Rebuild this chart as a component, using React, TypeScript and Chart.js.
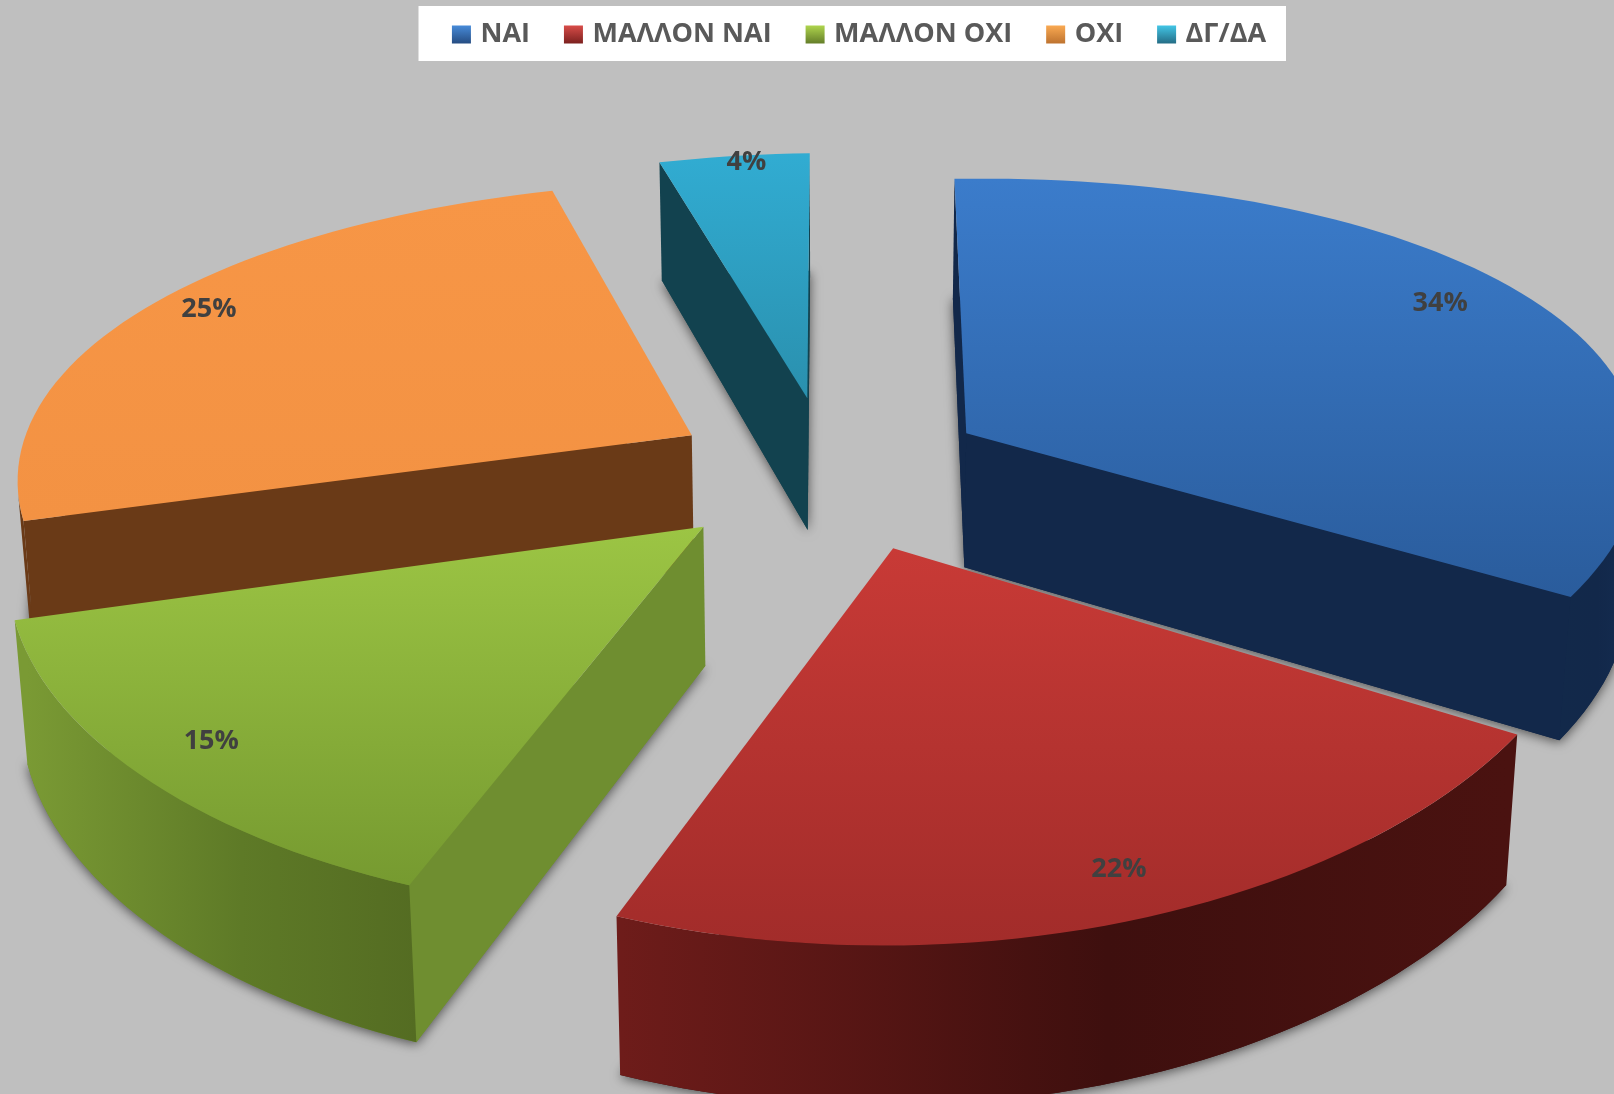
import React, { useEffect, useRef } from "react";
import { Chart, registerables } from "chart.js";

Chart.register(...registerables);

const categories = ["ΝΑΙ", "ΜΑΛΛΟΝ ΝΑΙ", "ΜΑΛΛΟΝ ΟΧΙ", "ΟΧΙ", "ΔΓ/ΔΑ"];
const shares = [34, 22, 15, 25, 4];
const baseColors = ["#3468AE", "#B53230", "#86AB39", "#F39544", "#2C9DC0"];
const markerLight = ["#4A90E0", "#E0504C", "#B5DC50", "#FFAE55", "#45CDEE"];
const markerDark = ["#264E84", "#7E2220", "#66802A", "#BF7430", "#256F88"];
const topLight = ["#3B7CCB", "#C83A36", "#9CC544", "#F79646", "#31ACD2"];
const topDark = ["#2A5C9C", "#A22C2A", "#769A30", "#F39243", "#2A90AE"];
const wallLeft = ["#12294A", "#6E1C1A", "#7A9A34", "#6A3A17", "#12424F"];
const wallMid = ["#12284A", "#3E0F0E", "#5E7A27", "#6A3A17", "#134553"];
const wallRight = ["#142C50", "#4A1210", "#546C22", "#6A3A17", "#134553"];
const radialWall = ["#12284A", "#3E0F0E", "#6F8E30", "#6A3A17", "#12424F"];
const labelRadius = [0.87, 0.89, 0.88, 0.91, 0.97];
const labelTurn = [-2, -1, 0, 2, 1];
const sliceDriftU = [-0.027, 0.005, 0, 0.005, -0.01];
const paintOrder = [4, 0, 3, 2, 1];
const explode = 115;

const view = { cx: 835, cy: 472, sx: 678, sy: 306, k: 0.16, kx: 0.1, d: 138, m: 0.015, roll: -10 };

type Pt = [number, number];

function project(u: number, v: number, z: number): Pt {
  const w = 1 - view.k * v + view.m * z;
  const wx = 1 - view.kx * v + view.m * z;
  return [
    view.cx + (view.sx * u) / wx,
    view.cy + (view.sy * v + view.d * z) / w + view.roll * u,
  ];
}

function tracePath(ctx: CanvasRenderingContext2D, pts: Pt[]) {
  ctx.beginPath();
  pts.forEach((p, i) => (i ? ctx.lineTo(p[0], p[1]) : ctx.moveTo(p[0], p[1])));
  ctx.closePath();
}

function signedArea(pts: Pt[]) {
  let s = 0;
  pts.forEach((p, i) => {
    const q = pts[(i + 1) % pts.length];
    s += p[0] * q[1] - q[0] * p[1];
  });
  return s;
}

const pie3d = {
  id: "pie3d",
  beforeDraw(chart: any) {
    const { ctx } = chart;
    ctx.save();
    ctx.fillStyle = "#FFFFFF";
    ctx.fillRect(418.5, 6, 867.5, 55);
    ctx.restore();
  },
  afterLayout(chart: any) {
    const lg = chart.legend;
    lg.left += 54;
    lg.right += 54;
    lg.top -= 17;
    lg.bottom -= 17;
  },
  beforeDatasetsDraw(chart: any) {
    const { ctx } = chart;
    const arcs = chart.getDatasetMeta(0).data;
    paintOrder.forEach((i) => {
      const arc = arcs[i];
      const { startAngle, endAngle, outerRadius } = arc;
      const e = arc.options.offset / outerRadius;
      const mid = (startAngle + endAngle) / 2;
      const ou = e * Math.cos(mid) + sliceDriftU[i];
      const ov = e * Math.sin(mid);
      const at = (a: number, r: number, z: number) =>
        project(ou + r * Math.cos(a), ov + r * Math.sin(a), z);

      const steps = Math.max(4, Math.ceil((endAngle - startAngle) / 0.03));
      const angles: number[] = [];
      for (let s = 0; s <= steps; s++) angles.push(startAngle + ((endAngle - startAngle) * s) / steps);

      const rimTop = angles.map((a) => at(a, 1, 0));
      const rimBottom = angles.map((a) => at(a, 1, 1));
      const apexTop = at(0, 0, 0);
      const apexBottom = at(0, 0, 1);

      // soft shadow cast by the bottom face
      ctx.save();
      ctx.shadowColor = "rgba(0,0,0,0.6)";
      ctx.shadowBlur = 12;
      ctx.shadowOffsetY = 2;
      ctx.fillStyle = radialWall[i];
      tracePath(ctx, [apexBottom, ...rimBottom]);
      ctx.fill();
      ctx.restore();

      // radial walls, only when they face the viewer
      const radial: [Pt, Pt, Pt, Pt][] = [
        [apexTop, rimTop[0], rimBottom[0], apexBottom],
        [rimTop[steps], apexTop, apexBottom, rimBottom[steps]],
      ];
      radial.forEach((quad) => {
        if (signedArea(quad) < 0) {
          ctx.fillStyle = radialWall[i];
          tracePath(ctx, quad);
          ctx.fill();
        }
      });

      // outer wall: the run of rim segments that face the viewer
      let first = -1;
      let last = -1;
      for (let s = 0; s < steps; s++) {
        const seg: Pt[] = [rimTop[s], rimTop[s + 1], rimBottom[s + 1], rimBottom[s]];
        if (signedArea(seg) < 0) {
          if (first < 0) first = s;
          last = s + 1;
        }
      }
      if (first >= 0) {
        const xs = rimBottom.slice(first, last + 1).map((p) => p[0]);
        const grad = ctx.createLinearGradient(Math.min(...xs), 0, Math.max(...xs), 0);
        grad.addColorStop(0, wallLeft[i]);
        grad.addColorStop(0.55, wallMid[i]);
        grad.addColorStop(1, wallRight[i]);
        ctx.fillStyle = grad;
        tracePath(ctx, [
          ...rimTop.slice(first, last + 1),
          ...rimBottom.slice(first, last + 1).reverse(),
        ]);
        ctx.fill();
      }

      const outline: Pt[] = [apexTop, ...rimTop];
      const ys = outline.map((p) => p[1]);
      const topGrad = ctx.createLinearGradient(0, Math.min(...ys), 0, Math.max(...ys));
      topGrad.addColorStop(0, topLight[i]);
      topGrad.addColorStop(1, topDark[i]);
      ctx.fillStyle = topGrad;
      tracePath(ctx, outline);
      ctx.fill();
    });
    return false;
  },
  afterDraw(chart: any) {
    const { ctx } = chart;
    const arcs = chart.getDatasetMeta(0).data;
    ctx.save();
    ctx.font = "bold 27px 'Open Sans'";
    ctx.fillStyle = "#404040";
    ctx.textAlign = "center";
    ctx.textBaseline = "middle";
    arcs.forEach((arc: any, i: number) => {
      const mid = (arc.startAngle + arc.endAngle) / 2;
      const e = arc.options.offset / arc.outerRadius;
      const a = mid + (labelTurn[i] * Math.PI) / 180;
      const u = e * Math.cos(mid) + sliceDriftU[i] + labelRadius[i] * Math.cos(a);
      const v = e * Math.sin(mid) + labelRadius[i] * Math.sin(a);
      const [x, y] = project(u, v, 0);
      ctx.fillText(`${shares[i]}%`, x, y);
    });
    ctx.restore();
  },
};

export default function App() {
  const ref = useRef<HTMLCanvasElement>(null);
  useEffect(() => {
    document.body.style.margin = "0";
    document.body.style.background = "#BFBFBF";
    const chart = new Chart(ref.current as HTMLCanvasElement, {
      type: "pie",
      data: {
        labels: categories,
        datasets: [
          {
            data: shares,
            backgroundColor: baseColors,
            borderWidth: 0,
            offset: explode,
          },
        ],
      },
      options: {
        responsive: false,
        animation: false,
        rotation: 0,
        layout: { padding: 0 },
        plugins: {
          tooltip: { enabled: false },
          legend: {
            position: "top",
            labels: {
              boxWidth: 11,
              boxHeight: 10,
              padding: 38,
              color: "#595959",
              font: { family: "'Open Sans'", weight: "bold", size: 27 },
              generateLabels(c: any) {
                return categories.map((text, i) => {
                  const g = c.ctx.createLinearGradient(0, 24, 0, 43);
                  g.addColorStop(0, markerLight[i]);
                  g.addColorStop(1, markerDark[i]);
                  return {
                    text,
                    fillStyle: g,
                    strokeStyle: g,
                    lineWidth: 8,
                    fontColor: "#595959",
                    hidden: false,
                    index: i,
                  };
                });
              },
            },
          },
        },
      },
      plugins: [pie3d],
    } as any);
    return () => chart.destroy();
  }, []);
  return (
    <canvas
      ref={ref}
      width={1614}
      height={1094}
      style={{ display: "block", position: "absolute", left: 0, top: 0, background: "#BFBFBF" }}
    />
  );
}
